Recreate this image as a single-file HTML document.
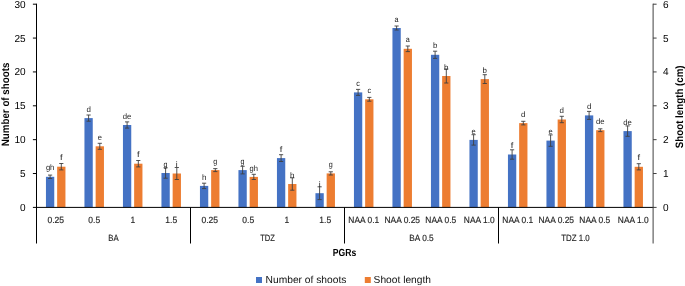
<!DOCTYPE html>
<html lang="en">
<head>
<meta charset="utf-8">
<title>PGRs chart</title>
<style>
html,body{margin:0;padding:0;background:#fff;}
body{width:685px;height:286px;overflow:hidden;}
svg{display:block;}
text{font-family:"Liberation Sans",sans-serif;text-rendering:geometricPrecision;}
.tk{font-size:10.2px;fill:#000;}
.ct{font-size:9px;fill:#262626;stroke:#262626;stroke-width:0.15px;text-anchor:middle;}
.dl{font-size:8px;fill:#1a1a1a;text-anchor:middle;}
.tt{font-size:10.7px;font-weight:bold;fill:#000;text-anchor:middle;}
.lg{font-size:10.2px;fill:#111;}
</style>
</head>
<body>
<svg width="685" height="286" viewBox="0 0 685 286">
<rect x="0" y="0" width="685" height="286" fill="#ffffff"/>
<g shape-rendering="auto">
<rect x="45.95" y="176.8" width="8.3" height="30.6" fill="#4472C4"/>
<rect x="57.15" y="166.7" width="8.3" height="40.7" fill="#ED7D31"/>
<rect x="84.45" y="118.1" width="8.3" height="89.3" fill="#4472C4"/>
<rect x="95.65" y="146.3" width="8.3" height="61.1" fill="#ED7D31"/>
<rect x="122.95" y="125" width="8.3" height="82.4" fill="#4472C4"/>
<rect x="134.15" y="163.7" width="8.3" height="43.7" fill="#ED7D31"/>
<rect x="161.45" y="173" width="8.3" height="34.4" fill="#4472C4"/>
<rect x="172.65" y="173.5" width="8.3" height="33.9" fill="#ED7D31"/>
<rect x="199.95" y="185.9" width="8.3" height="21.5" fill="#4472C4"/>
<rect x="211.15" y="170.1" width="8.3" height="37.3" fill="#ED7D31"/>
<rect x="238.45" y="170.1" width="8.3" height="37.3" fill="#4472C4"/>
<rect x="249.65" y="176.9" width="8.3" height="30.5" fill="#ED7D31"/>
<rect x="276.95" y="158.1" width="8.3" height="49.3" fill="#4472C4"/>
<rect x="288.15" y="184" width="8.3" height="23.4" fill="#ED7D31"/>
<rect x="315.45" y="193.2" width="8.3" height="14.2" fill="#4472C4"/>
<rect x="326.65" y="173.4" width="8.3" height="34" fill="#ED7D31"/>
<rect x="353.95" y="92.4" width="8.3" height="115" fill="#4472C4"/>
<rect x="365.15" y="99.3" width="8.3" height="108.1" fill="#ED7D31"/>
<rect x="392.45" y="28" width="8.3" height="179.4" fill="#4472C4"/>
<rect x="403.65" y="48.8" width="8.3" height="158.6" fill="#ED7D31"/>
<rect x="430.95" y="54.8" width="8.3" height="152.6" fill="#4472C4"/>
<rect x="442.15" y="76" width="8.3" height="131.4" fill="#ED7D31"/>
<rect x="469.45" y="139.9" width="8.3" height="67.5" fill="#4472C4"/>
<rect x="480.65" y="79.1" width="8.3" height="128.3" fill="#ED7D31"/>
<rect x="507.95" y="154.5" width="8.3" height="52.9" fill="#4472C4"/>
<rect x="519.15" y="123.1" width="8.3" height="84.3" fill="#ED7D31"/>
<rect x="546.45" y="140.6" width="8.3" height="66.8" fill="#4472C4"/>
<rect x="557.65" y="119.5" width="8.3" height="87.9" fill="#ED7D31"/>
<rect x="584.95" y="115.4" width="8.3" height="92" fill="#4472C4"/>
<rect x="596.15" y="130.2" width="8.3" height="77.2" fill="#ED7D31"/>
<rect x="623.45" y="131.1" width="8.3" height="76.3" fill="#4472C4"/>
<rect x="634.65" y="166.8" width="8.3" height="40.6" fill="#ED7D31"/>
</g>
<g stroke="#404040" stroke-width="0.9" fill="none">
<path d="M50.1 175.1 V178.5 M48 175.1 H52.2 M48 178.5 H52.2"/>
<path d="M61.3 163.5 V169.9 M59.2 163.5 H63.4 M59.2 169.9 H63.4"/>
<path d="M88.6 115 V121.2 M86.5 115 H90.7 M86.5 121.2 H90.7"/>
<path d="M99.8 143.3 V149.3 M97.7 143.3 H101.9 M97.7 149.3 H101.9"/>
<path d="M127.1 121.9 V128.1 M125 121.9 H129.2 M125 128.1 H129.2"/>
<path d="M138.3 160.5 V166.9 M136.2 160.5 H140.4 M136.2 166.9 H140.4"/>
<path d="M165.6 167.8 V178.2 M163.5 167.8 H167.7 M163.5 178.2 H167.7"/>
<path d="M176.8 167.5 V179.5 M174.7 167.5 H178.9 M174.7 179.5 H178.9"/>
<path d="M204.1 183.2 V188.6 M202 183.2 H206.2 M202 188.6 H206.2"/>
<path d="M215.3 168.6 V171.6 M213.2 168.6 H217.4 M213.2 171.6 H217.4"/>
<path d="M242.6 166.3 V173.9 M240.5 166.3 H244.7 M240.5 173.9 H244.7"/>
<path d="M253.8 174.3 V179.5 M251.7 174.3 H255.9 M251.7 179.5 H255.9"/>
<path d="M281.1 154.7 V161.5 M279 154.7 H283.2 M279 161.5 H283.2"/>
<path d="M292.3 177.8 V190.2 M290.2 177.8 H294.4 M290.2 190.2 H294.4"/>
<path d="M319.6 186.8 V199.6 M317.5 186.8 H321.7 M317.5 199.6 H321.7"/>
<path d="M330.8 171.8 V175 M328.7 171.8 H332.9 M328.7 175 H332.9"/>
<path d="M358.1 89.4 V95.4 M356 89.4 H360.2 M356 95.4 H360.2"/>
<path d="M369.3 97.4 V101.2 M367.2 97.4 H371.4 M367.2 101.2 H371.4"/>
<path d="M396.6 26 V30 M394.5 26 H398.7 M394.5 30 H398.7"/>
<path d="M407.8 46 V51.6 M405.7 46 H409.9 M405.7 51.6 H409.9"/>
<path d="M435.1 51.2 V58.4 M433 51.2 H437.2 M433 58.4 H437.2"/>
<path d="M446.3 69 V83 M444.2 69 H448.4 M444.2 83 H448.4"/>
<path d="M473.6 134.7 V145.1 M471.5 134.7 H475.7 M471.5 145.1 H475.7"/>
<path d="M484.8 74.7 V83.5 M482.7 74.7 H486.9 M482.7 83.5 H486.9"/>
<path d="M512.1 149.8 V159.2 M510 149.8 H514.2 M510 159.2 H514.2"/>
<path d="M523.3 121.3 V124.9 M521.2 121.3 H525.4 M521.2 124.9 H525.4"/>
<path d="M550.6 134.9 V146.3 M548.5 134.9 H552.7 M548.5 146.3 H552.7"/>
<path d="M561.8 116.3 V122.7 M559.7 116.3 H563.9 M559.7 122.7 H563.9"/>
<path d="M589.1 111.4 V119.4 M587 111.4 H591.2 M587 119.4 H591.2"/>
<path d="M600.3 128.8 V131.6 M598.2 128.8 H602.4 M598.2 131.6 H602.4"/>
<path d="M627.6 125.9 V136.3 M625.5 125.9 H629.7 M625.5 136.3 H629.7"/>
<path d="M638.8 163.7 V169.9 M636.7 163.7 H640.9 M636.7 169.9 H640.9"/>
</g>
<g class="dl">
<text x="50.1" y="170.4" textLength="8.4" lengthAdjust="spacingAndGlyphs">gh</text>
<text x="61.3" y="160.3" textLength="2.6" lengthAdjust="spacingAndGlyphs">f</text>
<text x="88.6" y="111.7" textLength="4.4" lengthAdjust="spacingAndGlyphs">d</text>
<text x="99.8" y="139.9" textLength="4.2" lengthAdjust="spacingAndGlyphs">e</text>
<text x="127.1" y="118.6" textLength="8.6" lengthAdjust="spacingAndGlyphs">de</text>
<text x="138.3" y="157.3" textLength="2.6" lengthAdjust="spacingAndGlyphs">f</text>
<text x="165.6" y="166.6" textLength="4.0" lengthAdjust="spacingAndGlyphs">g</text>
<text x="176.8" y="167.1" textLength="1.9" lengthAdjust="spacingAndGlyphs">i</text>
<text x="204.1" y="179.5" textLength="4.4" lengthAdjust="spacingAndGlyphs">h</text>
<text x="215.3" y="163.7" textLength="4.0" lengthAdjust="spacingAndGlyphs">g</text>
<text x="242.6" y="163.7" textLength="4.0" lengthAdjust="spacingAndGlyphs">g</text>
<text x="253.8" y="170.5" textLength="8.4" lengthAdjust="spacingAndGlyphs">gh</text>
<text x="281.1" y="151.7" textLength="2.6" lengthAdjust="spacingAndGlyphs">f</text>
<text x="292.3" y="177.6" textLength="4.4" lengthAdjust="spacingAndGlyphs">h</text>
<text x="319.6" y="186.8" textLength="1.9" lengthAdjust="spacingAndGlyphs">i</text>
<text x="330.8" y="167" textLength="4.0" lengthAdjust="spacingAndGlyphs">g</text>
<text x="358.1" y="86" textLength="3.6" lengthAdjust="spacingAndGlyphs">c</text>
<text x="369.3" y="92.9" textLength="3.6" lengthAdjust="spacingAndGlyphs">c</text>
<text x="396.6" y="21.6" textLength="4.0" lengthAdjust="spacingAndGlyphs">a</text>
<text x="407.8" y="42.4" textLength="4.0" lengthAdjust="spacingAndGlyphs">a</text>
<text x="435.1" y="48.4" textLength="4.4" lengthAdjust="spacingAndGlyphs">b</text>
<text x="446.3" y="69.6" textLength="4.4" lengthAdjust="spacingAndGlyphs">b</text>
<text x="473.6" y="133.5" textLength="4.2" lengthAdjust="spacingAndGlyphs">e</text>
<text x="484.8" y="72.7" textLength="4.4" lengthAdjust="spacingAndGlyphs">b</text>
<text x="512.1" y="148.1" textLength="2.6" lengthAdjust="spacingAndGlyphs">f</text>
<text x="523.3" y="116.7" textLength="4.4" lengthAdjust="spacingAndGlyphs">d</text>
<text x="550.6" y="134.2" textLength="4.2" lengthAdjust="spacingAndGlyphs">e</text>
<text x="561.8" y="113.1" textLength="4.4" lengthAdjust="spacingAndGlyphs">d</text>
<text x="589.1" y="109" textLength="4.4" lengthAdjust="spacingAndGlyphs">d</text>
<text x="600.3" y="123.8" textLength="8.6" lengthAdjust="spacingAndGlyphs">de</text>
<text x="627.6" y="124.7" textLength="8.6" lengthAdjust="spacingAndGlyphs">de</text>
<text x="638.8" y="160.4" textLength="2.6" lengthAdjust="spacingAndGlyphs">f</text>
</g>
<g stroke="#000" stroke-width="1" fill="none">
<path d="M36.5 3.7 V243.5"/>
<path d="M36 207.4 H653.5"/>
<path d="M32.9 207.4 H36.5"/>
<path d="M32.9 173.53 H36.5"/>
<path d="M32.9 139.67 H36.5"/>
<path d="M32.9 105.8 H36.5"/>
<path d="M32.9 71.93 H36.5"/>
<path d="M32.9 38.07 H36.5"/>
<path d="M32.9 4.2 H36.5"/>
<path d="M190.5 207.4 V243.5"/>
<path d="M344.5 207.4 V243.5"/>
<path d="M498.5 207.4 V243.5"/>
</g>
<g stroke="#404040" stroke-width="1" fill="none">
<path d="M653.1 3.7 V243.5"/>
<path d="M653 207.4 H656.6"/>
<path d="M653 173.53 H656.6"/>
<path d="M653 139.67 H656.6"/>
<path d="M653 105.8 H656.6"/>
<path d="M653 71.93 H656.6"/>
<path d="M653 38.07 H656.6"/>
<path d="M653 4.2 H656.6"/>
</g>
<g class="tk">
<text x="25.7" y="210.9" text-anchor="end" textLength="5.6" lengthAdjust="spacingAndGlyphs">0</text>
<text x="25.7" y="177.03" text-anchor="end" textLength="5.6" lengthAdjust="spacingAndGlyphs">5</text>
<text x="25.7" y="143.17" text-anchor="end" textLength="11.2" lengthAdjust="spacingAndGlyphs">10</text>
<text x="25.7" y="109.3" text-anchor="end" textLength="11.2" lengthAdjust="spacingAndGlyphs">15</text>
<text x="25.7" y="75.43" text-anchor="end" textLength="11.2" lengthAdjust="spacingAndGlyphs">20</text>
<text x="25.7" y="41.57" text-anchor="end" textLength="11.2" lengthAdjust="spacingAndGlyphs">25</text>
<text x="25.7" y="7.7" text-anchor="end" textLength="11.2" lengthAdjust="spacingAndGlyphs">30</text>
<text x="663.1" y="210.9" textLength="5.6" lengthAdjust="spacingAndGlyphs">0</text>
<text x="663.1" y="177.03" textLength="5.6" lengthAdjust="spacingAndGlyphs">1</text>
<text x="663.1" y="143.17" textLength="5.6" lengthAdjust="spacingAndGlyphs">2</text>
<text x="663.1" y="109.3" textLength="5.6" lengthAdjust="spacingAndGlyphs">3</text>
<text x="663.1" y="75.43" textLength="5.6" lengthAdjust="spacingAndGlyphs">4</text>
<text x="663.1" y="41.57" textLength="5.6" lengthAdjust="spacingAndGlyphs">5</text>
<text x="663.1" y="7.7" textLength="5.6" lengthAdjust="spacingAndGlyphs">6</text>
</g>
<g class="ct">
<text x="55.75" y="222.8" textLength="16.6" lengthAdjust="spacingAndGlyphs">0.25</text>
<text x="94.25" y="222.8" textLength="11.8" lengthAdjust="spacingAndGlyphs">0.5</text>
<text x="132.75" y="222.8" textLength="4.7" lengthAdjust="spacingAndGlyphs">1</text>
<text x="171.25" y="222.8" textLength="11.8" lengthAdjust="spacingAndGlyphs">1.5</text>
<text x="209.75" y="222.8" textLength="16.6" lengthAdjust="spacingAndGlyphs">0.25</text>
<text x="248.25" y="222.8" textLength="11.8" lengthAdjust="spacingAndGlyphs">0.5</text>
<text x="286.75" y="222.8" textLength="4.7" lengthAdjust="spacingAndGlyphs">1</text>
<text x="325.25" y="222.8" textLength="11.8" lengthAdjust="spacingAndGlyphs">1.5</text>
<text x="363.75" y="222.8" textLength="30.8" lengthAdjust="spacingAndGlyphs">NAA 0.1</text>
<text x="402.25" y="222.8" textLength="35.5" lengthAdjust="spacingAndGlyphs">NAA 0.25</text>
<text x="440.75" y="222.8" textLength="30.8" lengthAdjust="spacingAndGlyphs">NAA 0.5</text>
<text x="479.25" y="222.8" textLength="30.8" lengthAdjust="spacingAndGlyphs">NAA 1.0</text>
<text x="517.75" y="222.8" textLength="30.8" lengthAdjust="spacingAndGlyphs">NAA 0.1</text>
<text x="556.25" y="222.8" textLength="35.5" lengthAdjust="spacingAndGlyphs">NAA 0.25</text>
<text x="594.75" y="222.8" textLength="30.8" lengthAdjust="spacingAndGlyphs">NAA 0.5</text>
<text x="633.25" y="222.8" textLength="30.8" lengthAdjust="spacingAndGlyphs">NAA 1.0</text>
<text x="113.5" y="240.8" textLength="10.4" lengthAdjust="spacingAndGlyphs">BA</text>
<text x="267.5" y="240.8" textLength="14.6" lengthAdjust="spacingAndGlyphs">TDZ</text>
<text x="421.5" y="240.8" textLength="24.4" lengthAdjust="spacingAndGlyphs">BA 0.5</text>
<text x="575.5" y="240.8" textLength="28.5" lengthAdjust="spacingAndGlyphs">TDZ 1.0</text>
</g>
<text class="tt" style="font-size:10.3px" x="344.5" y="255.8" textLength="23.4" lengthAdjust="spacingAndGlyphs">PGRs</text>
<text class="tt" transform="translate(8.55 104.45) rotate(-90)" textLength="83.6" lengthAdjust="spacingAndGlyphs">Number of shoots</text>
<text class="tt" transform="translate(682.8 106.8) rotate(-90)" textLength="82.8" lengthAdjust="spacingAndGlyphs">Shoot length (cm)</text>
<rect x="256" y="277" width="6" height="6" fill="#4472C4"/>
<text class="lg" x="265.6" y="283.2" textLength="80.8" lengthAdjust="spacingAndGlyphs">Number of shoots</text>
<rect x="364.8" y="277" width="6" height="6" fill="#ED7D31"/>
<text class="lg" x="373.6" y="283.2" textLength="57.4" lengthAdjust="spacingAndGlyphs">Shoot length</text>
</svg>
</body>
</html>
